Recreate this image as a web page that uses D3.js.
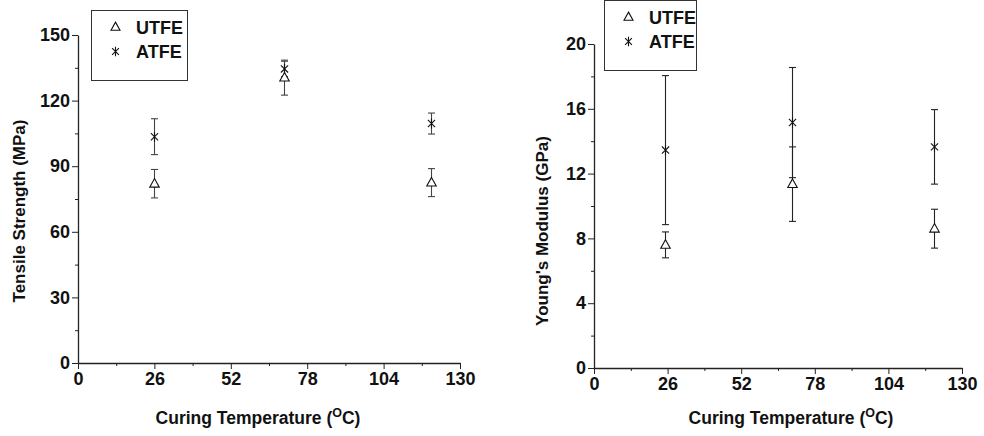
<!DOCTYPE html>
<html><head><meta charset="utf-8">
<script src="https://cdn.jsdelivr.net/npm/d3@7"></script>
<style>
body{margin:0;background:#fff;}
svg text{font-family:"Liberation Sans",Arial,sans-serif;font-weight:bold;fill:#111;}
</style></head>
<body><svg id="c" width="984" height="436"></svg>
<script>
// ---- data ----
const seriesNames = ["UTFE", "ATFE"];
const xTicks = [0, 26, 52, 78, 104, 130];
const tempsTS = [26, 70, 120];
const tsUTFE = [82, 130.5, 82.5];
const tsUTFEerr = [6.5, 8, 6.4];
const tsATFE = [103.5, 134.5, 109.5];
const tsATFEerr = [8.2, 3.5, 4.8];
const tsTicks = [0, 30, 60, 90, 120, 150];
const tempsYM = [25, 70, 120];
const ymUTFE = [7.6, 11.35, 8.6];
const ymUTFEerr = [0.8, 2.3, 1.2];
const ymATFE = [13.45, 15.15, 13.65];
const ymATFEerr = [4.6, 3.4, 2.3];
const ymTicks = [0, 4, 8, 12, 16, 20];

const svg = d3.select("#c");

function triPath(s){ // open triangle
  const h = s*0.9;
  return `M0,${-h*0.6}L${s/2},${h*0.4}L${-s/2},${h*0.4}Z`;
}
function starPath(s){
  const r = s/2, d = r*0.72;
  return `M0,${-r}L0,${r}M${-d},${-d}L${d},${d}M${-d},${d}L${d},${-d}`;
}

function panel(cfg){
  const g = svg.append("g");
  const x = d3.scaleLinear().domain([0,130]).range(cfg.xr);
  const y = d3.scaleLinear().domain(cfg.yd).range(cfg.yr);
  const y0 = cfg.yr[0], x0 = cfg.xr[0];
  // minor ticks
  const xMinor = d3.range(13, 130, 26);
  const yStep = cfg.yTicks[1]-cfg.yTicks[0];
  const yMinor = d3.range(yStep/2, cfg.yd[1], yStep);
  g.append("g").attr("transform",`translate(0,${y0})`)
    .call(d3.axisBottom(x).tickValues(xMinor).tickSize(3).tickSizeOuter(0).tickFormat(""))
    .call(a=>a.select(".domain").remove());
  g.append("g").attr("transform",`translate(${x0},0)`)
    .call(d3.axisLeft(y).tickValues(yMinor).tickSize(3).tickSizeOuter(0).tickFormat(""))
    .call(a=>a.select(".domain").remove());
  const ax = g.append("g").attr("transform",`translate(0,${y0})`)
    .call(d3.axisBottom(x).tickValues(xTicks).tickSize(6).tickSizeOuter(0).tickPadding(3));
  const ay = g.append("g").attr("transform",`translate(${x0},0)`)
    .call(d3.axisLeft(y).tickValues(cfg.yTicks).tickSize(6).tickSizeOuter(0).tickPadding(2));
  [ax, ay].forEach(a=>{
    a.attr("font-family",null);
    a.selectAll("text").attr("font-size",18).style("fill","#111");
    a.select(".domain").attr("stroke","#222").attr("stroke-width",1.3);
  });
  g.selectAll(".tick line").attr("stroke","#222");
  // axis titles
  const xt = g.append("text").attr("x", cfg.xTitleX).attr("y", 424)
    .attr("text-anchor","middle").attr("font-size",17.5);
  xt.append("tspan").text("Curing Temperature (");
  xt.append("tspan").attr("font-size",12.5).attr("dy",-7).text("O");
  xt.append("tspan").attr("dy",7).text("C)");
  g.append("text").attr("transform",`translate(${cfg.yTitleX},${cfg.yTitleY}) rotate(-90)`)
    .attr("text-anchor","middle").attr("font-size",17).text(cfg.yTitle);
  // series
  const series = [
    {name:seriesNames[0], v:cfg.u, e:cfg.ue, shape:"tri"},
    {name:seriesNames[1], v:cfg.a, e:cfg.ae, shape:"star"}
  ];
  series.forEach(s=>{
    const pts = cfg.temps.map((t,i)=>({t, v:s.v[i], e:s.e[i]}));
    const eg = g.append("g").attr("stroke",cfg.errColor).attr("stroke-width",1.1).attr("fill","none");
    pts.forEach(p=>{
      const px = Math.round(x(p.t))+0.5;
      eg.append("line").attr("x1",px).attr("x2",px).attr("y1",y(p.v+p.e)).attr("y2",y(p.v-p.e));
      [p.v+p.e, p.v-p.e].forEach(vv=>{
        eg.append("line").attr("x1",px-3.5).attr("x2",px+3.5).attr("y1",y(vv)).attr("y2",y(vv));
      });
    });
  });
  series.forEach(s=>{
    cfg.temps.forEach((t,i)=>{
      const px = Math.round(x(t))+0.5;
      const p = g.append("path").attr("transform",`translate(${px},${y(s.v[i])})`)
        .attr("stroke","#111").attr("stroke-width",1.1);
      if(s.shape==="tri") p.attr("d",triPath(9.5)).attr("fill","#fff");
      else p.attr("d",starPath(10)).attr("fill","none");
    });
  });
  // legend
  const L = cfg.legend;
  g.append("rect").attr("x",L.x+0.5).attr("y",L.y+0.5).attr("width",L.w).attr("height",L.h)
    .attr("fill","#fff").attr("stroke","#333").attr("stroke-width",1);
  series.forEach((s,i)=>{
    const cy = L.y + 17 + i*24.5;
    const p = g.append("path").attr("transform",`translate(${L.x+24.5},${cy})`)
      .attr("stroke","#111").attr("stroke-width",1.1);
    if(s.shape==="tri") p.attr("d",triPath(9)).attr("fill","#fff");
    else p.attr("d",starPath(9.5)).attr("fill","none");
    g.append("text").attr("x",L.x+45).attr("y",cy+6.5).attr("font-size",18).text(s.name);
  });
}

panel({
  xr:[78,460], yr:[363,35], yd:[0,150], yTicks:tsTicks,
  temps:tempsTS, u:tsUTFE, ue:tsUTFEerr, a:tsATFE, ae:tsATFEerr,
  yTitle:"Tensile Strength (MPa)", yTitleX:25, yTitleY:211, xTitleX:258,
  errColor:"#444",
  legend:{x:91, y:10, w:96, h:70}
});
panel({
  xr:[594,962], yr:[368,44], yd:[0,20], yTicks:ymTicks,
  temps:tempsYM, u:ymUTFE, ue:ymUTFEerr, a:ymATFE, ae:ymATFEerr,
  yTitle:"Young's Modulus (GPa)", yTitleX:548, yTitleY:231, xTitleX:791,
  errColor:"#222",
  legend:{x:604, y:0, w:92, h:70}
});
</script></body></html>
